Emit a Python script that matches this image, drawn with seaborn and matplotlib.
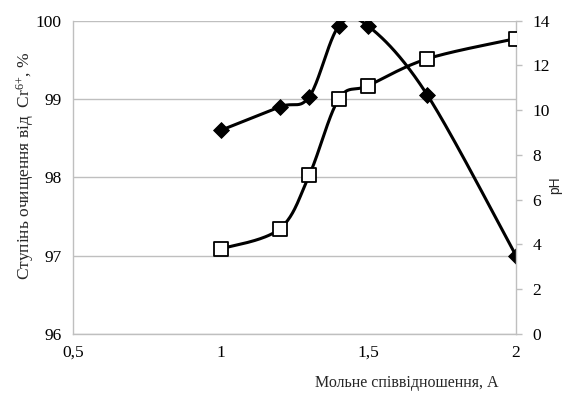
import numpy as np
import pandas as pd
import matplotlib
matplotlib.use("Agg")
import matplotlib.pyplot as plt
import seaborn as sns

# ---- data ----
ratio = [1.0, 1.2, 1.3, 1.4, 1.5, 1.7, 2.0]
purification = [98.6, 98.9, 99.03, 99.93, 99.93, 99.05, 97.0]
ph = [3.8, 4.7, 7.1, 10.5, 11.1, 12.3, 13.2]

x_ticks = [0.5, 1.0, 1.5, 2.0]
x_ticklabels = ["0,5", "1", "1,5", "2"]
left_ticks = [96, 97, 98, 99, 100]
right_ticks = [0, 2, 4, 6, 8, 10, 12, 14]

sns.set_theme(style="white")
plt.rcParams["font.family"] = ["Liberation Serif", "DejaVu Serif"]
plt.rcParams["mathtext.fontset"] = "custom"
plt.rcParams["mathtext.rm"] = "Liberation Serif"
plt.rcParams["mathtext.it"] = "Liberation Serif:italic"

W, H = 571, 394
fig = plt.figure(figsize=(W / 100, H / 100), dpi=100)
L, R, T, B = 73, 516, 20.7, 334
ax = fig.add_axes([L / W, 1 - B / H, (R - L) / W, (B - T) / H])
ax2 = ax.twinx()

xlim = (0.5, 2.0)
ylim1 = (96, 100)
ylim2 = (0, 14)


def smooth(xs, ys, xl, yl, n=40):
    """Excel-like Bezier smoothing computed in pixel space."""
    px = (np.asarray(xs) - xl[0]) / (xl[1] - xl[0]) * (R - L)
    py = (np.asarray(ys) - yl[0]) / (yl[1] - yl[0]) * (B - T)
    P = np.column_stack([px, py])
    m = len(P)
    out = []
    for i in range(m - 1):
        p0 = P[i - 1] if i > 0 else P[i]
        p1, p2 = P[i], P[i + 1]
        p3 = P[i + 2] if i + 2 < m else P[i + 1]
        c1 = p1 + (p2 - p0) / 6.0
        c2 = p2 - (p3 - p1) / 6.0
        t = np.linspace(0, 1, n)[:, None]
        seg = ((1 - t) ** 3) * p1 + 3 * ((1 - t) ** 2) * t * c1 + 3 * (1 - t) * t ** 2 * c2 + t ** 3 * p2
        out.append(seg if i == 0 else seg[1:])
    out = np.vstack(out)
    cx = out[:, 0] / (R - L) * (xl[1] - xl[0]) + xl[0]
    cy = out[:, 1] / (B - T) * (yl[1] - yl[0]) + yl[0]
    return cx, cy


grid_col = "#BFBFBF"

# purification (left axis)
cx, cy = smooth(ratio, purification, xlim, ylim1)
sns.lineplot(x=cx, y=cy, ax=ax, color="black", lw=2.2, sort=False, estimator=None, zorder=3)
sns.scatterplot(x=ratio, y=purification, ax=ax, marker="D", s=65, color="black",
                edgecolor="black", zorder=4)

# pH (right axis)
cx2, cy2 = smooth(ratio, ph, xlim, ylim2)
sns.lineplot(x=cx2, y=cy2, ax=ax2, color="black", lw=2.2, sort=False, estimator=None, zorder=3)
sns.scatterplot(x=ratio, y=ph, ax=ax2, marker="s", s=95, color="white",
                edgecolor="black", linewidth=1.3, zorder=4)

ax.set_xlim(*xlim)
ax.set_ylim(*ylim1)
ax2.set_ylim(*ylim2)
ax.set_xticks(x_ticks)
ax.set_xticklabels(x_ticklabels)
ax.set_yticks(left_ticks)
ax.set_yticklabels([str(v) for v in left_ticks])
ax2.set_yticks(right_ticks)
ax2.set_yticklabels([str(v) for v in right_ticks])

for a in (ax, ax2):
    for s in a.spines.values():
        s.set_visible(False)
ax.spines["left"].set_visible(True)
ax.spines["bottom"].set_visible(True)
ax2.spines["right"].set_visible(True)
for s in (ax.spines["left"], ax.spines["bottom"], ax2.spines["right"]):
    s.set_color(grid_col)
    s.set_linewidth(1.0)

ax.yaxis.grid(True, color=grid_col, lw=1.0)
ax.xaxis.grid(False)
ax2.grid(False)

fs = 12.5
ax.tick_params(axis="x", length=0, pad=8, labelsize=fs, colors="black")
ax.tick_params(axis="y", length=0, pad=8, labelsize=fs, colors="black")
ax2.tick_params(axis="y", length=4, width=1, color=grid_col, pad=8, labelsize=fs,
                labelcolor="black", direction="out")

ax.set_xlabel("")
ax.set_ylabel("")
ax2.set_ylabel("")

fig.text(25 / W, 1 - 166 / H, "Ступінь очищення від  Cr$^{6{+}}$, %", rotation=90,
         ha="center", va="center", fontsize=12.5)
fig.text(407 / W, 1 - 383 / H, "Мольне співвідношення, А", ha="center", va="center",
         fontsize=11.5)
fig.text(555 / W, 1 - 185 / H, "pH", rotation=90, ha="center", va="center",
         fontsize=10, family=["Liberation Sans", "DejaVu Sans"])

fig.savefig("out.png", dpi=100)
